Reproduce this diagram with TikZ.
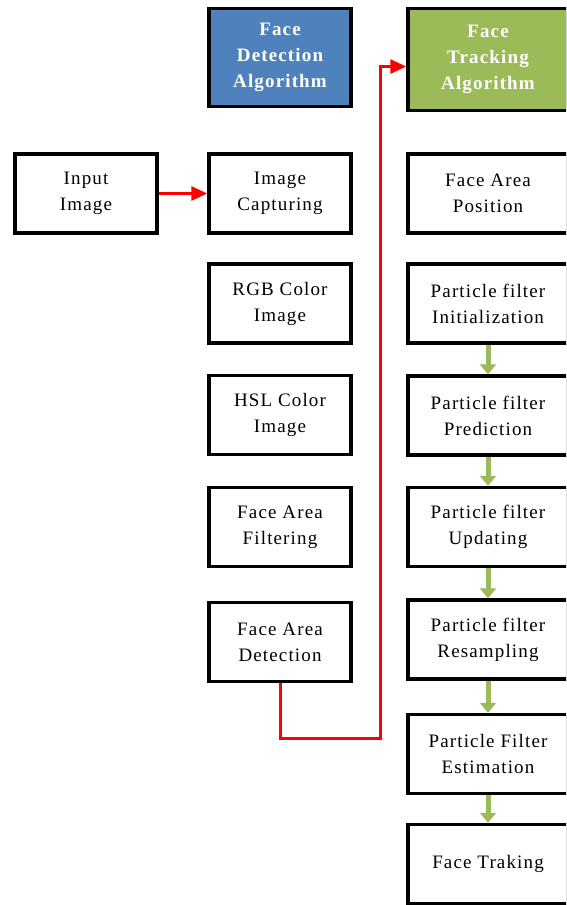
\documentclass[tikz,border=0pt]{standalone}
\usepackage{fontspec}
\setmainfont{Liberation Serif}[LetterSpace=6]
\usepackage{xcolor}
\usetikzlibrary{arrows.meta,positioning,calc}
\definecolor{hdrblue}{RGB}{79,129,189}
\definecolor{hdrgreen}{RGB}{155,187,89}

\begin{document}
\begin{tikzpicture}[x=1pt, y=1pt,
    box/.style={draw, line width=3.5pt, fill=white, minimum width=142pt, minimum height=79pt, font=\fontsize{19}{26}\selectfont, align=center},
    rbox/.style={box, minimum width=160pt},
    hdr/.style={box, text=white, font=\fontsize{19}{26}\selectfont\bfseries, minimum height=98pt},
    redarr/.style={-{Triangle[width=14pt,length=16pt]}, line width=3pt, draw=red},
    grnarr/.style={-{Triangle[width=16pt,length=10pt]}, line width=5pt, draw=hdrgreen}
]
\clip (0,0) rectangle (566,-905);

% Headers
\node[hdr, fill=hdrblue]  (hdrdet) at (280, -57.5) {Face\\Detection\\Algorithm};
\node[hdr, fill=hdrgreen, minimum width=160pt, minimum height=102pt] (hdrtrk) at (488, -59.5) {Face\\Tracking\\Algorithm};

% Detection chain (left)
\node[box] (input)   at (86, -193.5)  {Input\\Image};
\node[box] (capture) at (280, -193.5) {Image\\Capturing};
\node[box] (rgb)     at (280, -303.5) {RGB Color\\Image};
\node[box] (hsl)     at (280, -415)   {HSL Color\\Image};
\node[box] (filt)    at (280, -527)   {Face Area\\Filtering};
\node[box] (detect)  at (280, -642)   {Face Area\\Detection};

% Tracking chain (right)
\node[rbox] (pos)    at (488, -193.5) {Face Area\\Position};
\node[rbox] (init)   at (488, -303.5) {Particle filter\\Initialization};
\node[rbox] (pred)   at (488, -415.5) {Particle filter\\Prediction};
\node[rbox] (upd)    at (488, -527)   {Particle filter\\Updating};
\node[rbox] (resamp) at (488, -639.5) {Particle filter\\Resampling};
\node[rbox] (est)    at (488, -754)   {Particle Filter\\Estimation};
\node[rbox] (track)  at (488, -864)   {Face Traking};

% Connections
\draw[redarr] (input) -- (capture);
\coordinate (jog) at (380, -738);
\draw[redarr] (detect.south) |- (jog) |- ([yshift=-7pt]hdrtrk.west);
\draw[grnarr] (init) -- (pred);
\draw[grnarr] (pred) -- (upd);
\draw[grnarr] (upd) -- (resamp);
\draw[grnarr] (resamp) -- (est);
\draw[grnarr] (est) -- (track);
\end{tikzpicture}
\end{document}
